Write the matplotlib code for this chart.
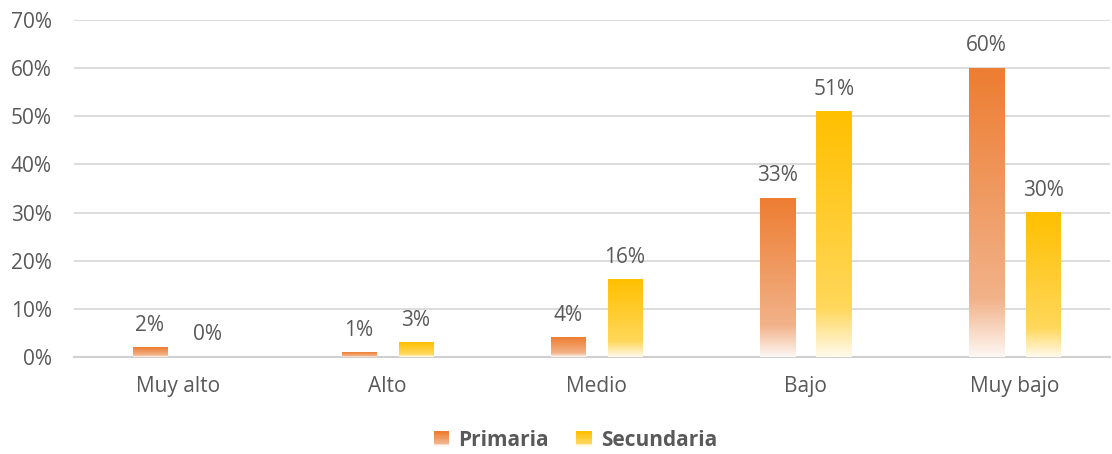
import numpy as np
import matplotlib
matplotlib.use('Agg')
import matplotlib.pyplot as plt
from matplotlib.colors import to_rgb
from matplotlib.patches import Rectangle
from matplotlib.legend_handler import HandlerBase

categories = ['Muy alto', 'Alto', 'Medio', 'Bajo', 'Muy bajo']
primaria = [2, 1, 4, 33, 60]
secundaria = [0, 3, 16, 51, 30]
series_names = ['Primaria', 'Secundaria']
yticks = [0, 10, 20, 30, 40, 50, 60, 70]

# gradient stops: top colour, lighter colour near bottom, almost white at base
orange = ['#ED7D31', '#F2B289', '#FDF7F3']
yellow = ['#FFC000', '#FFD75A', '#FFFAEC']

text_grey = '#595959'
plt.rcParams['font.family'] = ['Open Sans', 'DejaVu Sans']


def gradient(colors, n=200):
    stops = [0.0, 0.8, 1.0]
    cols = np.array([to_rgb(c) for c in colors])
    t = np.linspace(0, 1, n)
    out = np.zeros((n, 1, 3))
    for k in range(3):
        out[:, 0, k] = np.interp(t, stops, cols[:, k])
    return out  # row 0 = top


def grad_bar(ax, x, w, h, colors):
    if h <= 0:
        return
    ax.imshow(gradient(colors), extent=[x - w / 2, x + w / 2, 0, h],
              aspect='auto', origin='upper', zorder=3, interpolation='bilinear')


class GradHandler(HandlerBase):
    def __init__(self, colors):
        super().__init__()
        self.colors = colors

    def create_artists(self, legend, orig_handle, xdescent, ydescent,
                       width, height, fontsize, trans):
        g = gradient(self.colors, 12)
        side = height * 1.05
        x0 = xdescent + (width - side) / 2
        arts = []
        for i in range(12):
            r = Rectangle((x0, ydescent + side - (i + 1) * side / 12 - (side - height) / 2),
                          side, side / 12 + 0.2, facecolor=g[i, 0], edgecolor='none',
                          transform=trans)
            arts.append(r)
        return arts


fig = plt.figure(figsize=(11.12, 4.54), dpi=100)
ax = fig.add_axes([74 / 1112, 1 - 357 / 454, (1110 - 74) / 1112, (357 - 20) / 454])

x = np.arange(len(categories))
w = 35 / 209
off = 28.5 / 209

for i in range(len(categories)):
    grad_bar(ax, x[i] - off, w, primaria[i], orange)
    grad_bar(ax, x[i] + off, w, secundaria[i], yellow)
    ax.annotate(f'{primaria[i]}%', (x[i] - off, primaria[i]), xytext=(0, 12),
                textcoords='offset points', ha='center', va='baseline',
                fontsize=15, color=text_grey)
    ax.annotate(f'{secundaria[i]}%', (x[i] + off, secundaria[i]), xytext=(0, 12),
                textcoords='offset points', ha='center', va='baseline',
                fontsize=15, color=text_grey)

ax.set_xlim(-0.5, (1110 - 74) / 209 - 0.5)
ax.set_ylim(0, 70)
ax.set_yticks(yticks)
ax.set_yticklabels([f'{v}%' for v in yticks])
ax.set_xticks(x)
ax.set_xticklabels(categories)
ax.tick_params(axis='both', length=0, labelsize=15, labelcolor=text_grey)
ax.tick_params(axis='x', pad=14)
ax.tick_params(axis='y', pad=16)
ax.grid(axis='y', color='#D9D9D9', linewidth=1.3, zorder=0)
ax.set_axisbelow(True)
for s in ['top', 'right', 'left']:
    ax.spines[s].set_visible(False)
ax.spines['bottom'].set_color('#D0D0D0')
ax.spines['bottom'].set_linewidth(1.5)

h1 = Rectangle((0, 0), 1, 1)
h2 = Rectangle((0, 0), 1, 1)
leg = fig.legend([h1, h2], series_names, loc='center',
                 bbox_to_anchor=(575 / 1112, 1 - 441 / 454), ncol=2, frameon=False,
                 handler_map={h1: GradHandler(orange), h2: GradHandler(yellow)},
                 prop={'weight': 'bold', 'size': 15}, handlelength=0.8,
                 handletextpad=0.4, columnspacing=1.3)
for t in leg.get_texts():
    t.set_color(text_grey)

fig.savefig('out.png', dpi=100)
